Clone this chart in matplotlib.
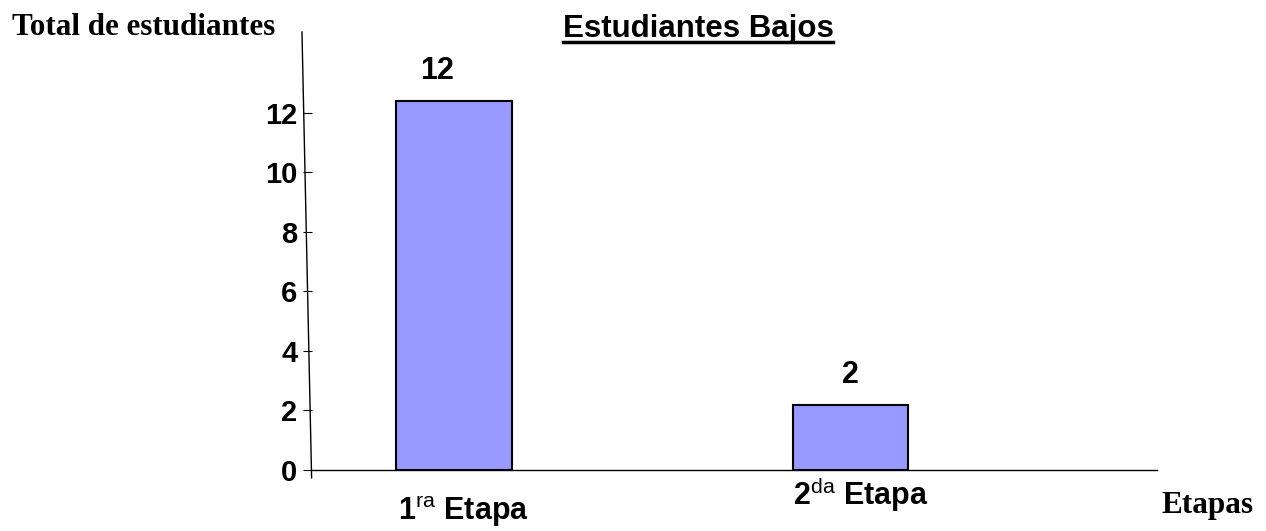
import matplotlib
matplotlib.use("Agg")
import matplotlib.pyplot as plt
from matplotlib.lines import Line2D

# Data
categories = ["1$^{\\mathrm{ra}}$ Etapa", "2$^{\\mathrm{da}}$ Etapa"]
bar_heights = [12.4, 2.2]
value_labels = ["12", "2"]
yticks = [0, 2, 4, 6, 8, 10, 12]

plt.rcParams['mathtext.fontset'] = 'custom'
plt.rcParams['mathtext.rm'] = 'Liberation Sans'
plt.rcParams['mathtext.bf'] = 'Liberation Sans:bold'

sans = 'Liberation Sans'
serif = 'Liberation Serif'

fig = plt.figure(figsize=(12.66, 5.31), dpi=100)
ax = fig.add_axes([0.2464, 0.1149, 0.9139 - 0.2464, 0.9397 - 0.1149])

x = list(range(len(categories)))
ax.bar(x, bar_heights, width=0.292, color='#9999FF', edgecolor='black', linewidth=1.5, zorder=3)

ax.set_xlim(-0.358, 1.773)
ax.set_ylim(0, 14.72)
ax.set_yticks(yticks)
ax.set_yticklabels([str(t) for t in yticks], fontfamily=sans, fontweight='bold', fontsize=21)
ax.tick_params(axis='y', direction='out', length=6.5, width=0.8, pad=4)
ax.set_xticks([])

for s in ['top', 'right', 'left']:
    ax.spines[s].set_visible(False)
ax.spines['bottom'].set_linewidth(1.0)

# slanted y-axis line
ax.add_line(Line2D([-0.0004, -0.0118], [-0.018, 1.0], transform=ax.transAxes,
                   color='black', linewidth=1.0, clip_on=False))

# value labels
label_dx = [-0.043, 0.0]
for xi, h, lab, dx in zip(x, bar_heights, value_labels, label_dx):
    ax.text(xi + dx, h + 0.5, lab, ha='center', va='bottom', fontfamily=sans,
            fontweight='bold', fontsize=22)

# category labels (staggered as in original)
cat_dy = [-50, -35]
cat_dx = [0.023, 0.025]
for xi, cat, dy, dx in zip(x, categories, cat_dy, cat_dx):
    ax.annotate(cat, xy=(xi + dx, 0), xycoords='data', xytext=(0, dy),
                textcoords='offset pixels', ha='center', va='baseline',
                fontfamily=sans, fontweight='bold', fontsize=22)

fig.text(563 / 1266, 1 - 37 / 531, "Estudiantes Bajos", ha='left', va='baseline',
         fontfamily=sans, fontweight='bold', fontsize=22.5)
# underline
fig.add_artist(Line2D([563 / 1266, 833 / 1266], [1 - 42 / 531, 1 - 42 / 531],
                      transform=fig.transFigure, color='black', linewidth=2.5))

fig.text(12 / 1266, 1 - 35 / 531, "Total de estudiantes", ha='left', va='baseline',
         fontfamily=serif, fontweight='bold', fontsize=22.4)
fig.text(1162 / 1266, 1 - 513 / 531, "Etapas", ha='left', va='baseline',
         fontfamily=serif, fontweight='bold', fontsize=22.5)

fig.savefig("out.png", dpi=100)
